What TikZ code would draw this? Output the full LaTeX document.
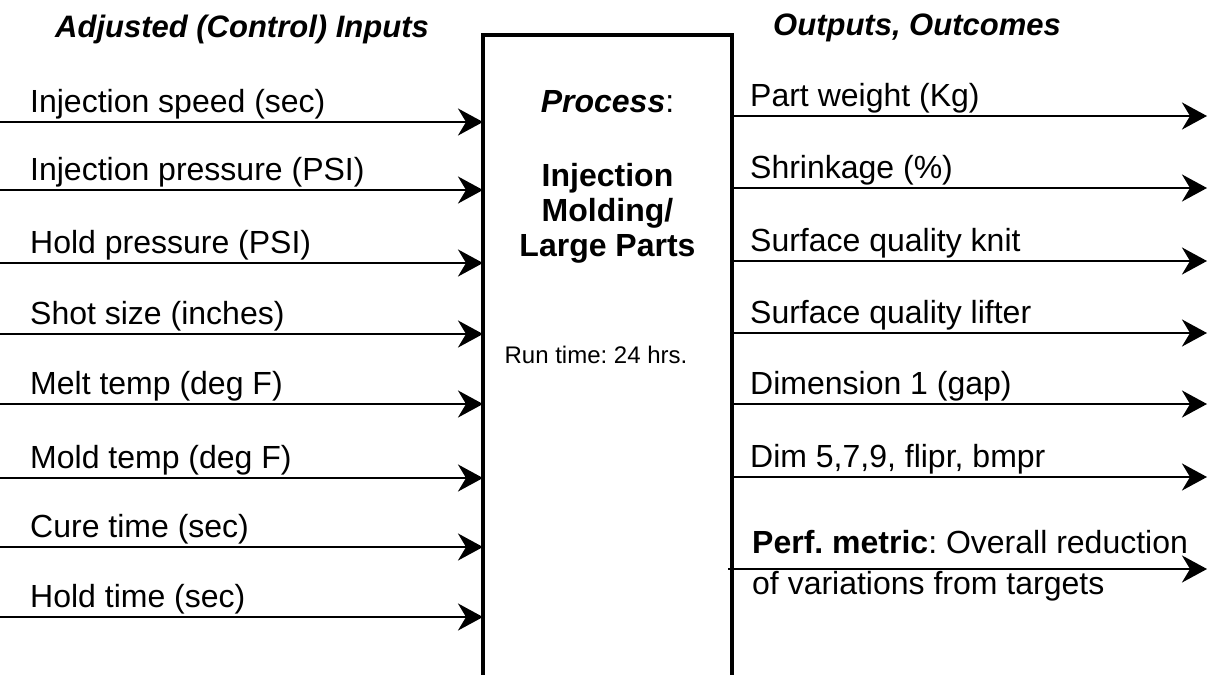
\documentclass[tikz,border=0pt]{standalone}
\usepackage{fontspec}
\setmainfont{Liberation Sans}
\usetikzlibrary{arrows.meta}
\frenchspacing

\begin{document}
\begin{tikzpicture}[x=1pt,y=-1pt,
    feed/.style={line width=2.6pt,-{Stealth[length=25pt,width=27pt,inset=8pt]}},
    txt/.style={anchor=base west,inner sep=0pt,font=\fontsize{32}{36}\selectfont},
    head/.style={anchor=base west,inner sep=0pt,font=\fontsize{31}{36}\selectfont\bfseries\itshape},
    mid/.style={anchor=base,inner sep=0pt,font=\fontsize{32}{36}\selectfont\bfseries}]
    \useasboundingbox (0,0) rectangle (1211,675);
    % open process box
    \coordinate (bl) at (483,675);
    \coordinate (tl) at (483,35);
    \coordinate (tr) at (732,35);
    \coordinate (br) at (732,675);
    \draw[line width=4pt] (bl) -- (tl) -- (tr) -- (br);

    \node[head] (intitle) at (55,37) {Adjusted (Control) Inputs};
    \node[head] (outtitle) at (773,35) {Outputs, Outcomes};

    % box text
    \node[mid] (proc) at (607.5,112) {\textit{Process}\textmd{:}};
    \foreach \y/\t [count=\i] in {186/Injection, 221/{Molding/}, 256/Large Parts}
        \node[mid] (name\i) at (607.5,\y) {\t};
    \node[anchor=base,inner sep=0pt,font=\fontsize{24}{28}\selectfont] (run) at (596,363) {Run time: 24 hrs.};

    % inputs
    \foreach \y/\t [count=\i] in {122/Injection speed (sec), 190/Injection pressure (PSI),
        263/Hold pressure (PSI), 334/Shot size (inches), 404/Melt temp (deg F),
        478/Mold temp (deg F), 547/Cure time (sec), 617/Hold time (sec)}{
        \coordinate (in\i) at (0,\y);
        \coordinate (inend\i) at (483,\y);
        \draw[feed] (in\i) -- (inend\i);
        \node[txt] (inlbl\i) at (30,\y-10) {\t};
    }

    % outputs
    \foreach \y/\t [count=\i] in {116/Part weight (Kg), 188/Shrinkage (\%),
        261/Surface quality knit, 333/Surface quality lifter, 404/Dimension 1 (gap),
        477/{Dim 5,7,9, flipr, bmpr}}{
        \coordinate (out\i) at (730,\y);
        \coordinate (outend\i) at (1207,\y);
        \draw[feed] (out\i) -- (outend\i);
        \node[txt] (outlbl\i) at (750,\y-10) {\t};
    }
    \coordinate (out7) at (728,569);
    \coordinate (outend7) at (1207,569);
    \draw[feed] (out7) -- (outend7);
    \node[txt] (perf1) at (752,553) {\textbf{Perf. metric}: Overall reduction};
    \node[txt] (perf2) at (752,594) {of variations from targets};
\end{tikzpicture}
\end{document}
